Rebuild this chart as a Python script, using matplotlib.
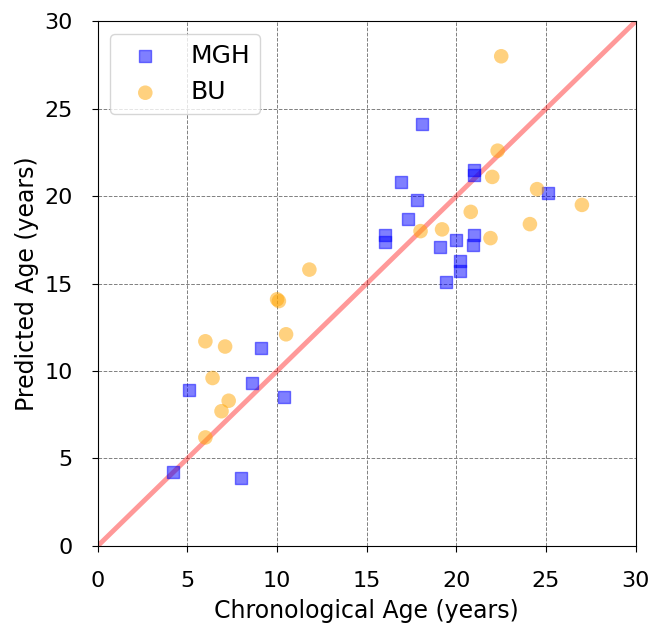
import numpy as np
from matplotlib import pyplot as plt

# MGH cohort
mgh_true = [4.2, 8.0, 5.1, 8.6, 9.1, 10.4, 16.0, 16.0, 16.9, 17.8, 17.3, 18.1,
            19.1, 19.4, 20.0, 20.2, 20.2, 21.0, 21.0, 21.0, 20.9, 25.1]
mgh_pred = [4.2, 3.9, 8.9, 9.3, 11.3, 8.5, 17.8, 17.4, 20.8, 19.8, 18.7, 24.1,
            17.1, 15.1, 17.5, 16.3, 15.7, 21.5, 21.2, 17.8, 17.2, 20.2]

# BU cohort
bu_true = [22.5, 22.3, 22.0, 24.5, 27.0, 20.8, 18.0, 19.2, 24.1, 21.9,
           10.0, 10.1, 10.5, 6.0, 7.1, 6.4, 7.3, 6.9, 6.0, 11.8]
bu_pred = [28.0, 22.6, 21.1, 20.4, 19.5, 19.1, 18.0, 18.1, 18.4, 17.6,
           14.1, 14.0, 12.1, 11.7, 11.4, 9.6, 8.3, 7.7, 6.2, 15.8]

fig, ax = plt.subplots(figsize=(6.52, 6.26), dpi=100)
fig.subplots_adjust(left=0.150, right=0.975, top=0.966, bottom=0.128)

lims = np.array([0, 30])
ax.plot(lims, lims, color='red', alpha=0.4, linewidth=3.5, zorder=1)
ax.scatter(mgh_true, mgh_pred, marker='s', s=80, color='blue', alpha=0.5,
           label='MGH', zorder=3)
ax.scatter(bu_true, bu_pred, marker='o', s=110, color='orange', alpha=0.5,
           edgecolors='none', label='BU', zorder=3)

ax.set_xlim(0, 30)
ax.set_ylim(0, 30)
ax.set_xticks(range(0, 31, 5))
ax.set_yticks(range(0, 31, 5))
ax.tick_params(labelsize=16, length=4, pad=14)
ax.grid(True, linestyle='--', color='gray', linewidth=0.7)
ax.set_axisbelow(True)
ax.set_xlabel('Chronological Age (years)', fontsize=17, labelpad=6)
ax.set_ylabel('Predicted Age (years)', fontsize=17, labelpad=4)
ax.legend(loc='upper left', fontsize=18)

plt.savefig('out.png')
